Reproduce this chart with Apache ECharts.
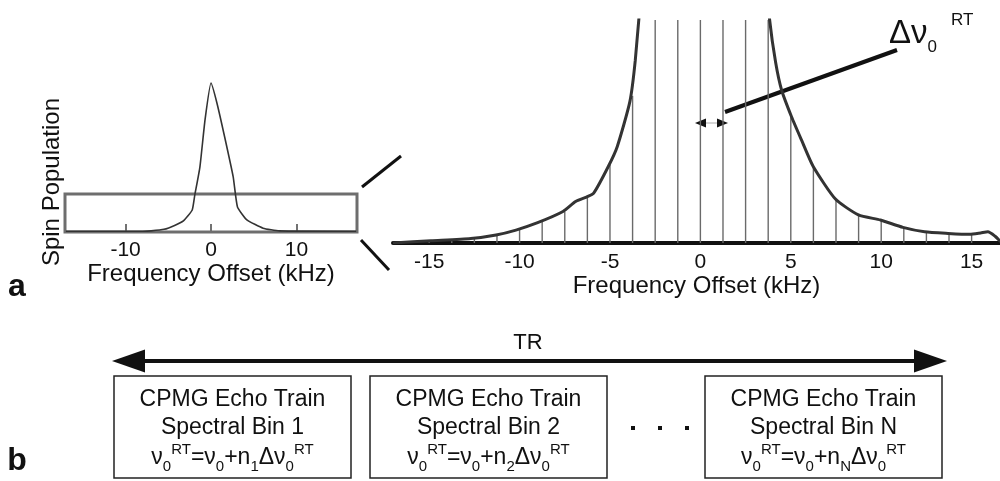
<!DOCTYPE html>
<html>
<head>
<meta charset="utf-8">
<script src="https://cdn.jsdelivr.net/npm/echarts@6/dist/echarts.min.js"></script>
<style>
  html, body { margin: 0; padding: 0; background: #fff; }
  #main { width: 1000px; height: 481px; }
</style>
</head>
<body>
<div id="main"></div>
<script>
// full spectrum (left panel), population in units of the zoom box height
var overviewFreq = [-17, -8, -7, -5.5, -4.2, -3.2, -2.2, -1.9, -1.3, -0.7, 0, 0.7, 1.6, 2.6, 3.1, 4.2, 6.1, 8, 17];
var overviewPop  = [0.02, 0.02, 0.03, 0.07, 0.18, 0.3, 0.58, 0.97, 1.71, 2.95, 3.92, 3.39, 2.5, 1.45, 0.66, 0.32, 0.1, 0.03, 0.02];

// zoomed spectrum (right panel)
var zoomFreq = [-17, -14.9, -12.7, -11.3, -10.2, -9.0, -7.6, -6.9, -6.3, -5.9, -5.1, -4.6, -3.9, -3.6, -3.2, -2.5, -1.5, 0,
                1.5, 2.5, 3.5, 3.83, 4.16, 4.49, 5.04, 5.59, 6.24, 7.47, 8.74, 9.96, 11.2, 12.4, 13.7, 14.9, 15.5, 15.9, 16.3, 16.6];
var zoomPop  = [0.0, 0.01, 0.02, 0.036, 0.058, 0.091, 0.141, 0.186, 0.206, 0.224, 0.342, 0.432, 0.634, 0.82, 1.2, 1.8, 2.7, 3.9,
                2.9, 2.1, 1.3, 1.0, 0.81, 0.686, 0.566, 0.462, 0.343, 0.197, 0.126, 0.103, 0.07, 0.05, 0.043, 0.039, 0.045, 0.05, 0.03, 0.006];

// spectral bins (stems), 1.25 kHz apart
var stemFreq   = [-15, -13.75, -12.5, -11.25, -10, -8.75, -7.5, -6.25, -5, -3.75, -2.5, -1.25, 0,
                  1.25, 2.5, 3.75, 5, 6.25, 7.5, 8.75, 10, 11.25, 12.5, 13.75, 15];
var stemHeight = [0.012, 0.015, 0.022, 0.038, 0.062, 0.094, 0.14, 0.21, 0.35, 0.66, 1, 1, 1,
                  1, 1, 1, 0.57, 0.34, 0.195, 0.126, 0.103, 0.07, 0.05, 0.043, 0.039];

var leftTicks  = [-10, 0, 10];
var rightTicks = [-15, -10, -5, 0, 5, 10, 15];
var binLabels  = ['1', '2', 'N'];

function pairs(xs, ys) {
  var out = [];
  for (var i = 0; i < xs.length; i++) out.push([xs[i], ys[i]]);
  return out;
}

var FONT = '"Liberation Sans", Arial, sans-serif';
var myChart = echarts.init(document.getElementById('main'));

// boxes of panel b
var boxLeft = [114, 370, 705];
var boxGraphics = [];
boxLeft.forEach(function (x0, i) {
  boxGraphics.push({
    type: 'rect', shape: { x: x0, y: 376, width: 237, height: 102 },
    style: { fill: 'none', stroke: '#222', lineWidth: 1.5 }
  });
  boxGraphics.push({
    type: 'text', x: x0 + 118.5, y: 386,
    style: {
      text: '{m|CPMG Echo Train}\n{m|Spectral Bin ' + binLabels[i] + '}\n' +
            '{f|ν}{s|0}{p|RT}{f|=ν}{s|0}{f|+n}{s|' + binLabels[i] + '}{f|Δν}{s|0}{p|RT}',
      align: 'center', verticalAlign: 'top', fill: '#111', fontFamily: FONT,
      rich: {
        m: { fontSize: 23, lineHeight: 28, fontFamily: FONT, fill: '#111' },
        f: { fontSize: 23, lineHeight: 32, fontFamily: FONT, fill: '#111' },
        s: { fontSize: 15, lineHeight: 8, verticalAlign: 'bottom', fontFamily: FONT, fill: '#111' },
        p: { fontSize: 15, lineHeight: 14, verticalAlign: 'top', fontFamily: FONT, fill: '#111' }
      }
    }
  });
});

var option = {
  animation: false,
  backgroundColor: '#fff',
  textStyle: { fontFamily: FONT },
  grid: [
    { left: 65, top: 80, width: 292, height: 152 },
    { left: 393, top: 20, width: 607, height: 223 }
  ],
  xAxis: [
    {
      gridIndex: 0, type: 'value', min: -17.1, max: 17.1,
      splitLine: { show: false },
      axisLine: { lineStyle: { color: '#333', width: 2 } },
      axisTick: { inside: true, length: 8, customValues: leftTicks, lineStyle: { color: '#444', width: 1.5 } },
      axisLabel: { customValues: leftTicks, fontSize: 21, color: '#111', margin: 8 },
      name: 'Frequency Offset (kHz)', nameLocation: 'middle', nameGap: 22,
      nameTextStyle: { fontSize: 24, color: '#111' }
    },
    {
      gridIndex: 1, type: 'value', min: -17, max: 16.57,
      splitLine: { show: false },
      axisLine: { lineStyle: { color: '#111', width: 4 } },
      axisTick: { show: false },
      axisLabel: { customValues: rightTicks, fontSize: 21, color: '#111', margin: 9 },
      name: 'Frequency Offset (kHz)', nameLocation: 'middle', nameGap: 30,
      nameTextStyle: { fontSize: 24, color: '#111' }
    }
  ],
  yAxis: [
    { gridIndex: 0, type: 'value', min: 0, max: 4, show: false },
    { gridIndex: 1, type: 'value', min: 0, max: 1, show: false }
  ],
  series: [
    {
      type: 'line', xAxisIndex: 0, yAxisIndex: 0,
      data: pairs(overviewFreq, overviewPop),
      showSymbol: false, clip: false, smooth: 0.15,
      lineStyle: { color: '#333', width: 1.6 },
      markArea: {
        silent: true,
        itemStyle: { color: 'rgba(0,0,0,0)', borderColor: '#6e6e6e', borderWidth: 3 },
        data: [[{ coord: [-17.1, 0] }, { coord: [17.1, 1] }]]
      }
    },
    {
      type: 'bar', xAxisIndex: 1, yAxisIndex: 1,
      data: pairs(stemFreq, stemHeight),
      barWidth: 1.4,
      itemStyle: { color: '#6a6a6a' }
    },
    {
      type: 'line', xAxisIndex: 1, yAxisIndex: 1,
      data: pairs(zoomFreq, zoomPop),
      showSymbol: false, clip: true, smooth: 0.2,
      lineStyle: { color: '#333', width: 3 }
    }
  ],
  graphic: [
    // zoom connectors
    { type: 'line', shape: { x1: 362, y1: 187, x2: 401, y2: 156 }, style: { stroke: '#111', lineWidth: 3 } },
    { type: 'line', shape: { x1: 361, y1: 240, x2: 389, y2: 270 }, style: { stroke: '#111', lineWidth: 3 } },
    // bin width annotation
    { type: 'line', shape: { x1: 897, y1: 50, x2: 725, y2: 112 }, style: { stroke: '#111', lineWidth: 4 } },
    { type: 'line', shape: { x1: 700, y1: 123, x2: 722, y2: 123 }, style: { stroke: '#aaa', lineWidth: 1 } },
    { type: 'polygon', shape: { points: [[695, 123], [706, 118.5], [706, 127.5]] }, style: { fill: '#111' } },
    { type: 'polygon', shape: { points: [[728, 123], [717, 118.5], [717, 127.5]] }, style: { fill: '#111' } },
    {
      type: 'text', x: 889, y: 12,
      style: {
        text: '{d|Δν}{s|0}{p|RT}', verticalAlign: 'top', fill: '#111',
        rich: {
          d: { fontSize: 33, lineHeight: 44, fontFamily: FONT, fill: '#111' },
          s: { fontSize: 17, lineHeight: 14, verticalAlign: 'bottom', fontFamily: FONT, fill: '#111' },
          p: { fontSize: 17, lineHeight: 12, verticalAlign: 'top', fontFamily: FONT, fill: '#111', padding: [0, 0, 0, 14] }
        }
      }
    },
    // y label of left panel
    {
      type: 'text', x: 52, y: 182, rotation: Math.PI / 2,
      style: { text: 'Spin Population', fontSize: 24, fontFamily: FONT, fill: '#111', align: 'center', verticalAlign: 'middle' }
    },
    // panel letters
    { type: 'text', x: 17, y: 287, style: { text: 'a', font: 'bold 32px ' + FONT, fill: '#111', align: 'center', verticalAlign: 'middle' } },
    { type: 'text', x: 17, y: 461, style: { text: 'b', font: 'bold 32px ' + FONT, fill: '#111', align: 'center', verticalAlign: 'middle' } },
    // TR arrow
    { type: 'line', shape: { x1: 140, y1: 361, x2: 919, y2: 361 }, style: { stroke: '#111', lineWidth: 4 } },
    { type: 'polygon', shape: { points: [[112, 361], [145, 349.5], [145, 372.5]] }, style: { fill: '#111' } },
    { type: 'polygon', shape: { points: [[947, 361], [914, 349.5], [914, 372.5]] }, style: { fill: '#111' } },
    { type: 'text', x: 528, y: 343, style: { text: 'TR', fontSize: 22, fontFamily: FONT, fill: '#111', align: 'center', verticalAlign: 'middle' } },
    // ellipsis
    { type: 'rect', shape: { x: 631, y: 426, width: 4, height: 4 }, style: { fill: '#111' } },
    { type: 'rect', shape: { x: 658, y: 426, width: 4, height: 4 }, style: { fill: '#111' } },
    { type: 'rect', shape: { x: 685, y: 426, width: 4, height: 4 }, style: { fill: '#111' } }
  ].concat(boxGraphics)
};

myChart.setOption(option);
</script>
</body>
</html>
